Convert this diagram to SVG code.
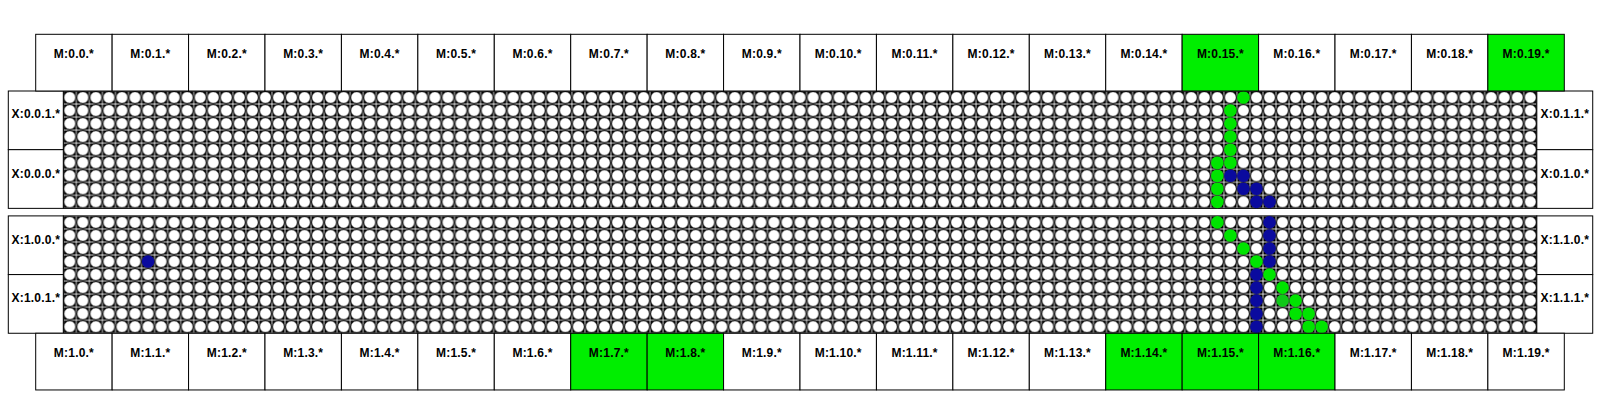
<svg xmlns="http://www.w3.org/2000/svg" width="1600" height="400" viewBox="0 0 1600 400">
<style>
.box{fill:#fff;stroke:#000;stroke-width:1}
.on{fill:#00ee00}
.lbl{font-family:"Liberation Sans",Arial,sans-serif;font-size:12px;font-weight:bold;fill:#000;text-anchor:middle;letter-spacing:0.2px}
.g{fill:#00e400}
.g2{fill:#10c818}
.b{fill:#0a0a9e}
.frame{fill:none;stroke:#000;stroke-width:1}
</style>
<defs>
<pattern id="cells" patternUnits="userSpaceOnUse" x="0" y="0" width="13.04" height="13.04">
<rect x="0" y="0" width="13.04" height="13.04" fill="#fff"/>
<rect x="0.4" y="0.4" width="12.24" height="12.24" fill="#000"/>
<circle cx="6.52" cy="6.52" r="5.95" fill="#fff" stroke="#000" stroke-width="0.9"/>
</pattern>
</defs>
<rect width="1600" height="400" fill="#fff"/>

<g id="grid-upper">
<g transform="translate(63.3,91)"><rect x="0" y="0" width="1473.52" height="117.36" fill="url(#cells)"/></g>
<rect class="frame" x="63.3" y="91" width="1473.52" height="117.36"/>
</g>
<g id="grid-lower">
<g transform="translate(63.3,215.9)"><rect x="0" y="0" width="1473.52" height="117.36" fill="url(#cells)"/></g>
<rect class="frame" x="63.3" y="215.9" width="1473.52" height="117.36"/>
</g>

<g id="dots">
<circle class="g" cx="1243.42" cy="97.52" r="6.3"/>
<circle class="g" cx="1230.38" cy="110.56" r="6.3"/>
<circle class="g" cx="1230.38" cy="123.6" r="6.3"/>
<circle class="g" cx="1230.38" cy="136.64" r="6.3"/>
<circle class="g" cx="1230.38" cy="149.68" r="6.3"/>
<circle class="g" cx="1217.34" cy="162.72" r="6.3"/>
<circle class="g" cx="1230.38" cy="162.72" r="6.3"/>
<circle class="g" cx="1217.34" cy="175.76" r="6.3"/>
<circle class="b" cx="1230.38" cy="175.76" r="6.3"/>
<circle class="b" cx="1243.42" cy="175.76" r="6.3"/>
<circle class="g" cx="1217.34" cy="188.8" r="6.3"/>
<circle class="b" cx="1243.42" cy="188.8" r="6.3"/>
<circle class="b" cx="1256.46" cy="188.8" r="6.3"/>
<circle class="g" cx="1217.34" cy="201.84" r="6.3"/>
<circle class="b" cx="1256.46" cy="201.84" r="6.3"/>
<circle class="b" cx="1269.5" cy="201.84" r="6.3"/>

<circle class="b" cx="148.06" cy="261.54" r="6.3"/>
<circle class="g" cx="1217.34" cy="222.42" r="6.3"/>
<circle class="b" cx="1269.5" cy="222.42" r="6.3"/>
<circle class="g" cx="1230.38" cy="235.46" r="6.3"/>
<circle class="b" cx="1269.5" cy="235.46" r="6.3"/>
<circle class="g" cx="1243.42" cy="248.5" r="6.3"/>
<circle class="b" cx="1269.5" cy="248.5" r="6.3"/>
<circle class="g" cx="1256.46" cy="261.54" r="6.3"/>
<circle class="b" cx="1269.5" cy="261.54" r="6.3"/>
<circle class="b" cx="1256.46" cy="274.58" r="6.3"/>
<circle class="g" cx="1269.5" cy="274.58" r="6.3"/>
<circle class="b" cx="1256.46" cy="287.62" r="6.3"/>
<circle class="g" cx="1282.54" cy="287.62" r="6.3"/>
<circle class="b" cx="1256.46" cy="300.66" r="6.3"/>
<circle class="g2" cx="1282.54" cy="300.66" r="6.3"/>
<circle class="g" cx="1295.58" cy="300.66" r="6.3"/>
<circle class="b" cx="1256.46" cy="313.7" r="6.3"/>
<circle class="g" cx="1295.58" cy="313.7" r="6.3"/>
<circle class="g" cx="1308.62" cy="313.7" r="6.3"/>
<circle class="b" cx="1256.46" cy="326.74" r="6.3"/>
<circle class="g" cx="1308.62" cy="326.74" r="6.3"/>
<circle class="g" cx="1321.66" cy="326.74" r="6.3"/>
</g>

<g id="X-0-0-1"><rect class="box" x="8.3" y="91" width="55" height="58.68"/><text class="lbl" x="35.8" y="117.5">X:0.0.1.*</text></g>
<g id="X-0-0-0"><rect class="box" x="8.3" y="149.68" width="55" height="58.68"/><text class="lbl" x="35.8" y="177.5">X:0.0.0.*</text></g>
<g id="X-1-0-0"><rect class="box" x="8.3" y="215.9" width="55" height="58.68"/><text class="lbl" x="35.8" y="243.5">X:1.0.0.*</text></g>
<g id="X-1-0-1"><rect class="box" x="8.3" y="274.58" width="55" height="58.68"/><text class="lbl" x="35.8" y="302.3">X:1.0.1.*</text></g>
<g id="X-0-1-1"><rect class="box" x="1536.82" y="91" width="55.9" height="58.68"/><text class="lbl" x="1564.8" y="117.5">X:0.1.1.*</text></g>
<g id="X-0-1-0"><rect class="box" x="1536.82" y="149.68" width="55.9" height="58.68"/><text class="lbl" x="1564.8" y="177.5">X:0.1.0.*</text></g>
<g id="X-1-1-0"><rect class="box" x="1536.82" y="215.9" width="55.9" height="58.68"/><text class="lbl" x="1564.8" y="243.5">X:1.1.0.*</text></g>
<g id="X-1-1-1"><rect class="box" x="1536.82" y="274.58" width="55.9" height="58.68"/><text class="lbl" x="1564.8" y="302.3">X:1.1.1.*</text></g>

<g id="M-0-0"><rect class="box" x="35.7" y="34.3" width="76.43" height="56.7"/><text class="lbl" x="73.9" y="57.5">M:0.0.*</text></g>
<g id="M-0-1"><rect class="box" x="112.13" y="34.3" width="76.43" height="56.7"/><text class="lbl" x="150.3" y="57.5">M:0.1.*</text></g>
<g id="M-0-2"><rect class="box" x="188.56" y="34.3" width="76.43" height="56.7"/><text class="lbl" x="226.8" y="57.5">M:0.2.*</text></g>
<g id="M-0-3"><rect class="box" x="264.99" y="34.3" width="76.43" height="56.7"/><text class="lbl" x="303.2" y="57.5">M:0.3.*</text></g>
<g id="M-0-4"><rect class="box" x="341.42" y="34.3" width="76.43" height="56.7"/><text class="lbl" x="379.6" y="57.5">M:0.4.*</text></g>
<g id="M-0-5"><rect class="box" x="417.85" y="34.3" width="76.43" height="56.7"/><text class="lbl" x="456.1" y="57.5">M:0.5.*</text></g>
<g id="M-0-6"><rect class="box" x="494.28" y="34.3" width="76.43" height="56.7"/><text class="lbl" x="532.5" y="57.5">M:0.6.*</text></g>
<g id="M-0-7"><rect class="box" x="570.71" y="34.3" width="76.43" height="56.7"/><text class="lbl" x="608.9" y="57.5">M:0.7.*</text></g>
<g id="M-0-8"><rect class="box" x="647.14" y="34.3" width="76.43" height="56.7"/><text class="lbl" x="685.4" y="57.5">M:0.8.*</text></g>
<g id="M-0-9"><rect class="box" x="723.57" y="34.3" width="76.43" height="56.7"/><text class="lbl" x="761.8" y="57.5">M:0.9.*</text></g>
<g id="M-0-10"><rect class="box" x="800" y="34.3" width="76.43" height="56.7"/><text class="lbl" x="838.2" y="57.5">M:0.10.*</text></g>
<g id="M-0-11"><rect class="box" x="876.43" y="34.3" width="76.43" height="56.7"/><text class="lbl" x="914.6" y="57.5">M:0.11.*</text></g>
<g id="M-0-12"><rect class="box" x="952.86" y="34.3" width="76.43" height="56.7"/><text class="lbl" x="991.1" y="57.5">M:0.12.*</text></g>
<g id="M-0-13"><rect class="box" x="1029.29" y="34.3" width="76.43" height="56.7"/><text class="lbl" x="1067.5" y="57.5">M:0.13.*</text></g>
<g id="M-0-14"><rect class="box" x="1105.72" y="34.3" width="76.43" height="56.7"/><text class="lbl" x="1143.9" y="57.5">M:0.14.*</text></g>
<g id="M-0-15"><rect class="box on" x="1182.15" y="34.3" width="76.43" height="56.7"/><text class="lbl" x="1220.4" y="57.5">M:0.15.*</text></g>
<g id="M-0-16"><rect class="box" x="1258.58" y="34.3" width="76.43" height="56.7"/><text class="lbl" x="1296.8" y="57.5">M:0.16.*</text></g>
<g id="M-0-17"><rect class="box" x="1335.01" y="34.3" width="76.43" height="56.7"/><text class="lbl" x="1373.2" y="57.5">M:0.17.*</text></g>
<g id="M-0-18"><rect class="box" x="1411.44" y="34.3" width="76.43" height="56.7"/><text class="lbl" x="1449.7" y="57.5">M:0.18.*</text></g>
<g id="M-0-19"><rect class="box on" x="1487.87" y="34.3" width="76.43" height="56.7"/><text class="lbl" x="1526.1" y="57.5">M:0.19.*</text></g>

<g id="M-1-0"><rect class="box" x="35.7" y="333.26" width="76.43" height="56.7"/><text class="lbl" x="73.9" y="356.5">M:1.0.*</text></g>
<g id="M-1-1"><rect class="box" x="112.13" y="333.26" width="76.43" height="56.7"/><text class="lbl" x="150.3" y="356.5">M:1.1.*</text></g>
<g id="M-1-2"><rect class="box" x="188.56" y="333.26" width="76.43" height="56.7"/><text class="lbl" x="226.8" y="356.5">M:1.2.*</text></g>
<g id="M-1-3"><rect class="box" x="264.99" y="333.26" width="76.43" height="56.7"/><text class="lbl" x="303.2" y="356.5">M:1.3.*</text></g>
<g id="M-1-4"><rect class="box" x="341.42" y="333.26" width="76.43" height="56.7"/><text class="lbl" x="379.6" y="356.5">M:1.4.*</text></g>
<g id="M-1-5"><rect class="box" x="417.85" y="333.26" width="76.43" height="56.7"/><text class="lbl" x="456.1" y="356.5">M:1.5.*</text></g>
<g id="M-1-6"><rect class="box" x="494.28" y="333.26" width="76.43" height="56.7"/><text class="lbl" x="532.5" y="356.5">M:1.6.*</text></g>
<g id="M-1-7"><rect class="box on" x="570.71" y="333.26" width="76.43" height="56.7"/><text class="lbl" x="608.9" y="356.5">M:1.7.*</text></g>
<g id="M-1-8"><rect class="box on" x="647.14" y="333.26" width="76.43" height="56.7"/><text class="lbl" x="685.4" y="356.5">M:1.8.*</text></g>
<g id="M-1-9"><rect class="box" x="723.57" y="333.26" width="76.43" height="56.7"/><text class="lbl" x="761.8" y="356.5">M:1.9.*</text></g>
<g id="M-1-10"><rect class="box" x="800" y="333.26" width="76.43" height="56.7"/><text class="lbl" x="838.2" y="356.5">M:1.10.*</text></g>
<g id="M-1-11"><rect class="box" x="876.43" y="333.26" width="76.43" height="56.7"/><text class="lbl" x="914.6" y="356.5">M:1.11.*</text></g>
<g id="M-1-12"><rect class="box" x="952.86" y="333.26" width="76.43" height="56.7"/><text class="lbl" x="991.1" y="356.5">M:1.12.*</text></g>
<g id="M-1-13"><rect class="box" x="1029.29" y="333.26" width="76.43" height="56.7"/><text class="lbl" x="1067.5" y="356.5">M:1.13.*</text></g>
<g id="M-1-14"><rect class="box on" x="1105.72" y="333.26" width="76.43" height="56.7"/><text class="lbl" x="1143.9" y="356.5">M:1.14.*</text></g>
<g id="M-1-15"><rect class="box on" x="1182.15" y="333.26" width="76.43" height="56.7"/><text class="lbl" x="1220.4" y="356.5">M:1.15.*</text></g>
<g id="M-1-16"><rect class="box on" x="1258.58" y="333.26" width="76.43" height="56.7"/><text class="lbl" x="1296.8" y="356.5">M:1.16.*</text></g>
<g id="M-1-17"><rect class="box" x="1335.01" y="333.26" width="76.43" height="56.7"/><text class="lbl" x="1373.2" y="356.5">M:1.17.*</text></g>
<g id="M-1-18"><rect class="box" x="1411.44" y="333.26" width="76.43" height="56.7"/><text class="lbl" x="1449.7" y="356.5">M:1.18.*</text></g>
<g id="M-1-19"><rect class="box" x="1487.87" y="333.26" width="76.43" height="56.7"/><text class="lbl" x="1526.1" y="356.5">M:1.19.*</text></g>

<g id="connectors"/>
</svg>
